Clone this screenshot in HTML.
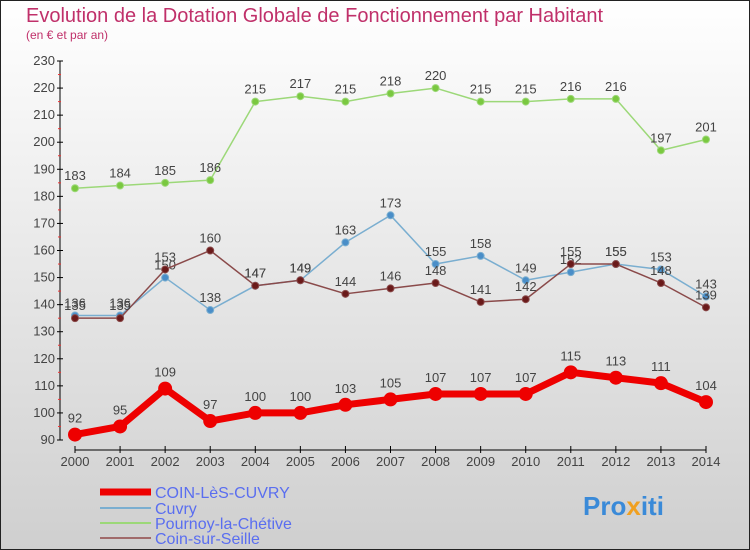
<!DOCTYPE html>
<html><head><meta charset="utf-8"><style>
body{margin:0}
svg{display:block;font-family:"Liberation Sans","DejaVu Sans",sans-serif}
</style></head><body>
<svg id="c" width="750" height="550" viewBox="0 0 750 550">
<defs><linearGradient id="bg" x1="0" y1="0" x2="0" y2="1"><stop offset="0" stop-color="#ffffff"/><stop offset="1" stop-color="#cfcfcf"/></linearGradient></defs>
<rect x="0.5" y="0.5" width="749" height="549" fill="url(#bg)" stroke="#222"/>
<text x="26" y="22" font-size="20" fill="#c0306a">Evolution de la Dotation Globale de Fonctionnement par Habitant</text>
<text x="26" y="39" font-size="12" fill="#c0306a">(en € et par an)</text>
<g id="axes"></g><g id="series"></g>
<g>
<line x1="100" y1="492" x2="151" y2="492" stroke="#e00" stroke-width="7"/>
<text x="155" y="498" font-size="16" fill="#5a6ef0">COIN-LèS-CUVRY</text>
<line x1="100" y1="508" x2="151" y2="508" stroke="#7aaed0" stroke-width="2"/>
<text x="155" y="514" font-size="16" fill="#5a6ef0">Cuvry</text>
<line x1="100" y1="523" x2="151" y2="523" stroke="#9cd878" stroke-width="2"/>
<text x="155" y="529" font-size="16" fill="#5a6ef0">Pournoy-la-Chétive</text>
<line x1="100" y1="538" x2="151" y2="538" stroke="#a06a6a" stroke-width="2"/>
<text x="155" y="544" font-size="16" fill="#5a6ef0">Coin-sur-Seille</text>
</g>
<text x="583" y="515" font-size="26" font-weight="bold" fill="#3a8ad8">Pro<tspan fill="#f0a020">x</tspan>iti</text>
</svg>
<script>
const years=[2000,2001,2002,2003,2004,2005,2006,2007,2008,2009,2010,2011,2012,2013,2014];
const yTicks=[90,100,110,120,130,140,150,160,170,180,190,200,210,220,230];
const coinLesCuvry=[92,95,109,97,100,100,103,105,107,107,107,115,113,111,104];
const cuvry=[136,136,150,138,147,149,163,173,155,158,149,152,155,153,143];
const pournoy=[183,184,185,186,215,217,215,218,220,215,215,216,216,197,201];
const coinSurSeille=[135,135,153,160,147,149,144,146,148,141,142,155,155,148,139];
const NS="http://www.w3.org/2000/svg";
const xS=i=>75+i*(706-75)/(years.length-1);
const yS=v=>440-(v-90)*(440-61)/140;
function mk(tag,attrs,parent){const e=document.createElementNS(NS,tag);for(const k in attrs)e.setAttribute(k,attrs[k]);parent.appendChild(e);return e;}
const ax=document.getElementById('axes');
let a=mk('line',{x1:60,y1:yS(230),x2:60,y2:yS(90),stroke:'#000'},ax);


a=mk('line',{x1:75,y1:450,x2:706,y2:450,stroke:'#000'},ax);


yTicks.forEach(v=>{
  mk('line',{x1:57,y1:yS(v),x2:63,y2:yS(v),stroke:'#000'},ax);
  if(v<230)mk('line',{x1:58,y1:yS(v+5),x2:61,y2:yS(v+5),stroke:'#e33'},ax);
  const t=mk('text',{x:55,y:yS(v)+4,'font-size':13,fill:'#444','text-anchor':'end'},ax);t.textContent=v;
  
  
});
years.forEach((y,i)=>{
  mk('line',{x1:xS(i),y1:446,x2:xS(i),y2:453,stroke:'#000'},ax);
  const t=mk('text',{x:xS(i),y:466,'font-size':13,fill:'#444','text-anchor':'middle'},ax);t.textContent=y;
  
  
});
const sg=document.getElementById('series');
function draw(vals,color,w,r,name,dot,lblOff){
  const g=mk('g',{},sg);
  
  
  mk('polyline',{points:vals.map((v,i)=>xS(i)+','+yS(v)).join(' '),fill:'none',stroke:color,'stroke-width':w,'stroke-linejoin':'round'},g);
  vals.forEach((v,i)=>{
    const c=mk('circle',{cx:xS(i),cy:yS(v),r:r,fill:dot,stroke:color,'stroke-width':1},g);
    
    
    const t=mk('text',{x:xS(i),y:yS(v)-lblOff,'font-size':13,fill:'#444','text-anchor':'middle'},g);t.textContent=v;
    
    
  });
}
draw(pournoy,'#9cd878',1.5,3.5,'series-pournoy','#7ac840',8);
draw(cuvry,'#7aaed0',1.5,3.5,'series-cuvry','#4a8ec8',8);
draw(coinSurSeille,'#8a4a4a',1.5,3.5,'series-coin-sur-seille','#6a1a1a',8);
draw(coinLesCuvry,'#ee0000',7,6.5,'series-coin-les-cuvry','#ee0000',12);
</script>
</body></html>
